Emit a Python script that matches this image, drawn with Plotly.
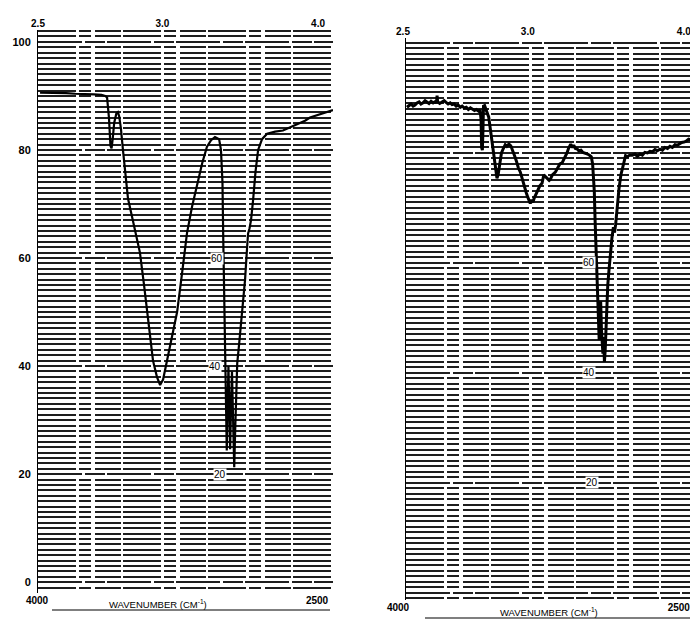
import plotly.graph_objects as go

# ---------------- data ----------------
# Left spectrum: wavenumber (cm-1) and % transmittance
left_wn = [3989, 3940, 3900, 3850, 3800, 3750, 3700, 3660, 3640, 3630,
           3620, 3612, 3606, 3600, 3592, 3580, 3572, 3565, 3556, 3545,
           3532, 3518, 3496, 3475, 3454, 3432, 3416, 3400, 3384, 3363,
           3346, 3330, 3309, 3282, 3255, 3229, 3202, 3175, 3148, 3121,
           3095, 3073, 3052, 3030, 3020, 3012, 3008, 3005, 3000, 2994,
           2989, 2985, 2980, 2975, 2971, 2966, 2961, 2955, 2949, 2944,
           2938, 2933, 2923, 2913, 2902, 2891, 2880, 2875, 2867, 2859,
           2848, 2835, 2821, 2800, 2773, 2730, 2688, 2650, 2623, 2596,
           2570, 2543, 2516, 2489, 2463, 2420]
left_T = [90.6, 90.6, 90.5, 90.5, 90.4, 90.4, 90.3, 90.2, 90.0, 89.7,
          86.0, 80.8, 80.3, 82.0, 85.0, 86.8, 87.0, 86.2, 84.0, 80.0,
          75.0, 71.0, 67.6, 64.0, 61.0, 55.0, 50.0, 45.5, 41.0, 38.0,
          36.5, 37.5, 41.0, 46.0, 50.0, 57.0, 64.6, 69.5, 73.8, 77.5,
          80.6, 81.8, 82.4, 82.0, 80.0, 74.0, 64.0, 56.0, 46.0, 35.0,
          24.4, 33.0, 40.0, 32.0, 24.6, 33.0, 39.0, 30.0, 21.3, 28.0,
          36.0, 40.5, 44.0, 48.0, 51.0, 56.0, 62.0, 64.5, 65.5, 67.0,
          70.7, 76.0, 80.0, 82.0, 83.0, 83.4, 83.6, 84.2, 84.5, 85.0,
          85.4, 86.0, 86.3, 86.6, 87.0, 87.4]

# Right spectrum
right_wn = [3995, 3984, 3973, 3962, 3952, 3941, 3930, 3920, 3909, 3898,
            3888, 3877, 3866, 3855, 3845, 3837, 3834, 3831, 3820, 3807,
            3796, 3786, 3775, 3764, 3754, 3743, 3732, 3721, 3710, 3700,
            3689, 3678, 3667, 3656, 3645, 3634, 3624, 3612, 3604, 3599,
            3596, 3592, 3589, 3586, 3580, 3574, 3566, 3558, 3550, 3541,
            3532, 3522, 3514, 3508, 3500, 3490, 3480, 3470, 3461, 3450,
            3440, 3430, 3420, 3410, 3400, 3389, 3378, 3368, 3358, 3350,
            3342, 3336, 3330, 3322, 3315, 3305, 3295, 3285, 3273, 3264,
            3255, 3245, 3235, 3229, 3218, 3202, 3190, 3178, 3166, 3150,
            3140, 3131, 3120, 3110, 3104, 3095, 3085, 3077, 3065, 3055,
            3041, 3030, 3020, 3010, 3003, 2998, 2994, 2990, 2985, 2980,
            2974, 2968, 2964, 2960, 2956, 2952, 2948, 2944, 2940, 2936,
            2930, 2922, 2916, 2908, 2900, 2892, 2886, 2880, 2870, 2862,
            2852, 2840, 2827, 2818, 2805, 2791, 2777, 2764, 2750, 2737,
            2724, 2710, 2697, 2684, 2670, 2657, 2643, 2630, 2617, 2603,
            2590, 2577, 2563, 2550, 2541, 2527, 2515, 2505, 2490, 2478,
            2469, 2455, 2443]
right_T = [88.3, 88.6, 88.9, 88.5, 88.7, 89.1, 89.3, 88.9, 89.1, 89.5,
           89.2, 89.0, 89.4, 89.1, 89.3, 89.1, 90.4, 89.3, 89.0, 89.2,
           89.5, 89.2, 88.9, 89.1, 88.8, 88.9, 88.5, 88.7, 88.3, 88.5,
           88.2, 88.3, 87.9, 88.2, 88.0, 87.7, 87.9, 87.6, 87.8, 86.0,
           81.0, 80.5, 84.0, 88.5, 88.6, 88.0, 87.5, 86.5, 84.5, 82.0,
           80.0, 77.0, 75.4, 76.0, 78.0, 80.0, 80.8, 81.5, 81.2, 81.6,
           81.3, 80.5, 79.5, 78.5, 77.3, 76.5, 75.0, 73.8, 72.8, 72.0,
           71.2, 70.8, 71.5, 71.0, 71.8, 72.5, 73.5, 74.0, 74.5, 76.0,
           75.7, 75.4, 75.0, 75.2, 76.0, 76.5, 77.3, 78.0, 78.2, 79.2,
           80.0, 80.9, 81.6, 81.0, 81.4, 80.8, 80.7, 80.4, 80.5, 80.1,
           80.0, 79.8, 79.6, 79.3, 78.0, 76.0, 73.0, 68.0, 62.0, 57.0,
           53.0, 46.0, 49.0, 53.0, 48.0, 44.0, 43.5, 46.5, 42.0, 44.0,
           50.0, 56.0, 58.5, 62.0, 64.5, 66.5, 65.5, 67.0, 71.5, 73.5,
           76.0, 78.0, 79.5, 79.3, 79.6, 79.6, 79.8, 79.4, 79.8, 79.6,
           80.1, 80.0, 80.3, 80.2, 80.6, 80.4, 80.7, 80.5, 81.0, 80.8,
           81.2, 81.0, 81.5, 81.4, 81.6, 81.9, 82.0, 82.1, 82.5, 82.4,
           82.8, 82.9, 83.0]

assert len(left_wn) == len(left_T)
assert len(right_wn) == len(right_T)

# Tick labels
micron_values = [2.5, 3.0, 4.0]
micron_labels = ["2.5", "3.0", "4.0"]
wn_tick_values = [4000, 2500]
wn_tick_labels = ["4000", "2500"]
inline_values = [60, 40, 20]
inline_labels = ["60", "40", "20"]
left_inline_wn = [3041, 3052, 3025]
right_inline_wn = [3025, 3020, 3004]
x_title = "WAVENUMBER (CM<sup>-1</sup>)"

# ---------------- figure ----------------
OFF = 8                      # default page body margin
W, H = 698 - OFF, 620 - OFF  # figure fills the rest of the window
FONT = "Liberation Sans, Arial, sans-serif"
GRID = "#1e1e1e"

fig = go.Figure()
fig.add_trace(go.Scatter(x=left_wn, y=left_T, mode="lines", xaxis="x", yaxis="y",
                         line=dict(color="black", width=2.2), showlegend=False, hoverinfo="skip"))
fig.add_trace(go.Scatter(x=right_wn, y=right_T, mode="lines", xaxis="x2", yaxis="y2",
                         line=dict(color="black", width=3), showlegend=False, hoverinfo="skip"))
# empty traces so the top (micron) axes get drawn
fig.add_trace(go.Scatter(x=[], y=[], xaxis="x3", yaxis="y", showlegend=False))
fig.add_trace(go.Scatter(x=[], y=[], xaxis="x4", yaxis="y2", showlegend=False))

micron_wn = [1e4 / m for m in micron_values]


def px(x):
    """window pixel x -> paper fraction"""
    return (x - OFF) / W


def py(y):
    """window pixel y -> paper fraction"""
    return 1 - (y - OFF) / H


xcommon = dict(showgrid=False, zeroline=False, ticks="", showline=False, automargin=False,
               ticklabeloverflow="allow",
               tickfont=dict(family=FONT, size=10, color="black", weight="bold"))
ycommon = dict(zeroline=False, ticks="", tick0=0, dtick=20, automargin=False,
               showgrid=True, gridcolor=GRID, gridwidth=1.7, griddash="44px,3px,20px,2px",
               minor=dict(tick0=0, dtick=1, showgrid=True, gridcolor=GRID, gridwidth=1.7,
                          griddash="38px,3px,12px,4px,26px,2px"),
               showline=True, linecolor="black", linewidth=1,
               tickfont=dict(family=FONT, size=11, color="black", weight="bold"))

# note: the x axes are reversed, so a positive label shift moves labels to the left
fig.update_layout(
    template="none",
    width=W, height=H,
    margin=dict(l=0, r=0, t=0, b=0, pad=0),
    paper_bgcolor="white", plot_bgcolor="white",
    showlegend=False,
    xaxis=dict(domain=[px(38), px(333)], range=[4000, 2420], anchor="y",
               tickmode="array", tickvals=wn_tick_values, ticktext=wn_tick_labels,
               ticklabelshift=1, **xcommon),
    yaxis=dict(domain=[py(593), py(30)], range=[-2.0, 102.2], anchor="x",
               ticklabelstandoff=4, **ycommon),
    xaxis2=dict(domain=[px(406), 1.0], range=[4000, 2440], anchor="y2",
                tickmode="array", tickvals=wn_tick_values, ticktext=wn_tick_labels,
                ticklabelshift=8, **xcommon),
    yaxis2=dict(domain=[py(600), py(38)], range=[-1.3, 100.9], anchor="x2",
                showticklabels=False, **ycommon),
    xaxis3=dict(overlaying="x", anchor="y", side="top", range=[4000, 2420],
                tickmode="array", tickvals=micron_wn, ticktext=micron_labels, **xcommon),
    xaxis4=dict(overlaying="x2", anchor="y2", side="top", range=[4000, 2440],
                tickmode="array", tickvals=micron_wn, ticktext=micron_labels,
                ticklabelshift=3, **xcommon),
)

annotations = []
for wn, v, lab in zip(left_inline_wn, inline_values, inline_labels):
    annotations.append(dict(x=wn, y=v, xref="x", yref="y", text=lab, showarrow=False,
                            bgcolor="white", borderpad=0,
                            font=dict(family=FONT, size=10, color="black")))
for wn, v, lab in zip(right_inline_wn, inline_values, inline_labels):
    annotations.append(dict(x=wn, y=v, xref="x2", yref="y2", text=lab, showarrow=False,
                            bgcolor="white", borderpad=0,
                            font=dict(family=FONT, size=10, color="black")))
annotations.append(dict(x=px(158), y=py(604), xref="paper", yref="paper", text=x_title,
                        xanchor="center", yanchor="middle", showarrow=False,
                        font=dict(family=FONT, size=9.5, color="black")))
annotations.append(dict(x=px(549), y=py(612), xref="paper", yref="paper", text=x_title,
                        xanchor="center", yanchor="middle", showarrow=False,
                        font=dict(family=FONT, size=9.5, color="black")))
fig.update_layout(annotations=annotations)

fig.add_shape(type="line", xref="paper", yref="paper", x0=px(52), x1=px(330),
              y0=py(610), y1=py(610), line=dict(color="black", width=1.2))
fig.add_shape(type="line", xref="paper", yref="paper", x0=px(425), x1=1.0,
              y0=py(618), y1=py(618), line=dict(color="black", width=1.2))

fig.write_html("out.html")
